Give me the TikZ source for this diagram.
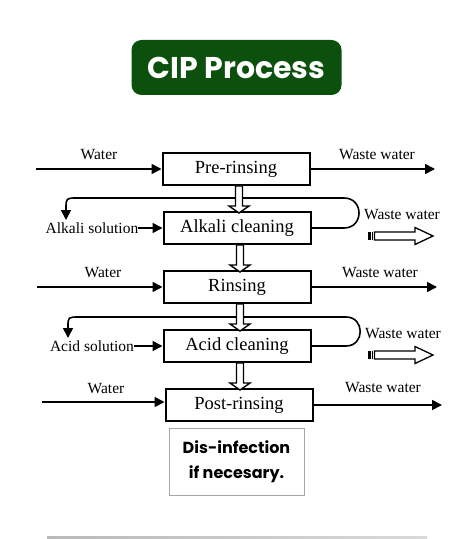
\documentclass[tikz,border=0pt]{standalone}
\usepackage{fontspec}
\setmainfont{Liberation Serif}
\newfontfamily\poppins{Poppins}
\usetikzlibrary{arrows.meta,positioning}
\definecolor{cipgreen}{RGB}{12,80,14}

\begin{document}
\begin{tikzpicture}[
x=1bp, y=-1bp,
>={Triangle[length=10bp,width=10bp]},
title/.style={rectangle, rounded corners=10bp, fill=cipgreen, text=white, minimum width=210bp, minimum height=55bp, font=\poppins\fontsize{30bp}{36bp}\selectfont\bfseries},
stage/.style={rectangle, draw, line width=2bp, minimum width=147bp, minimum height=32bp, inner sep=0pt, font=\fontsize{18.5bp}{22bp}\selectfont},
flowlabel/.style={inner sep=0pt, font=\fontsize{15.5bp}{18bp}\selectfont},
note/.style={rectangle, draw=gray!70, line width=1bp, minimum width=135bp, minimum height=67bp, align=center, font=\poppins\fontsize{16bp}{25bp}\selectfont\bfseries},
flow/.style={line width=1.6bp},
blockdown/.pic={\filldraw[fill=white,line width=1.4bp] (-3.5,0) -- (-3.5,20) -- (-10,20) -- (0,27) -- (10,20) -- (3.5,20) -- (3.5,0) -- cycle;},
wasteout/.pic={
  \fill (0,-4) rectangle (2.5,4);
  \fill (3.5,-4) rectangle (5,4);
  \filldraw[fill=white,line width=1.3bp] (6.5,-4) -- (47,-4) -- (47,-8.5) -- (65,0) -- (47,8.5) -- (47,4) -- (6.5,4) -- cycle;},
]
\useasboundingbox (0,0) rectangle (474,539);

\node at (236.5,67.5) [title](title){CIP Process};

% stages
\node at (236,169) [stage](pre){Pre-rinsing};
\node at (237,228) [stage](alk){Alkali cleaning};
\node at (237,287) [stage](rin){Rinsing};
\node at (237,346) [stage](acid){Acid cleaning};
\node at (239,405) [stage](post){Post-rinsing};

\node at (236.5,461.5) [note](disinf){Dis-infection\\if necesary.};

% pre-rinsing
\node at (99,155) [flowlabel](pre_water){Water};
\node at (377,155) [flowlabel](pre_waste){Waste water};
\coordinate (pre_in) at (36,169);
\coordinate (pre_out) at (435,169);
\draw[flow,->] (pre_in) -- (pre.west);
\draw[flow,->] (pre.east) -- (pre_out);

% alkali cleaning
\node at (92,228) [flowlabel](alk_sol){Alkali solution};
\draw[flow,->] (alk_sol.east) -- (alk.west);
\coordinate (alk_turn) at (344,198);
\coordinate (alk_bend) at (77,198);
\coordinate (alk_back) at (66,220);
\draw[flow,->] (alk.east) -- (alk.east -| alk_turn)
  .. controls ([xshift=20bp]alk.east -| alk_turn) and ([xshift=20bp]alk_turn) .. (alk_turn)
  -- (alk_bend) .. controls (alk_back |- alk_bend) .. ([yshift=11bp]alk_back) -- (alk_back);
\node at (402,215) [flowlabel](alk_waste){Waste water};
\coordinate (alk_drain) at (368,236);
\pic at (alk_drain) {wasteout};

% rinsing
\node at (103,273) [flowlabel](rin_water){Water};
\node at (380,273) [flowlabel](rin_waste){Waste water};
\coordinate (rin_in) at (37,287);
\coordinate (rin_out) at (437,287);
\draw[flow,->] (rin_in) -- (rin.west);
\draw[flow,->] (rin.east) -- (rin_out);

% acid cleaning
\node at (92,346) [flowlabel](acid_sol){Acid solution};
\draw[flow,->] (acid_sol.east) -- (acid.west);
\coordinate (acid_turn) at (346,317);
\coordinate (acid_bend) at (79,317);
\coordinate (acid_back) at (68,338);
\draw[flow,->] (acid.east) -- (acid.east -| acid_turn)
  .. controls ([xshift=19bp]acid.east -| acid_turn) and ([xshift=19bp]acid_turn) .. (acid_turn)
  -- (acid_bend) .. controls (acid_back |- acid_bend) .. ([yshift=11bp]acid_back) -- (acid_back);
\node at (403,334) [flowlabel](acid_waste){Waste water};
\coordinate (acid_drain) at (368,355);
\pic at (acid_drain) {wasteout};

% post-rinsing
\node at (106,389) [flowlabel](post_water){Water};
\node at (383,388) [flowlabel](post_waste){Waste water};
\coordinate (post_in) at (42,402);
\coordinate (post_out) at (442,405);
\draw[flow,->] (post_in) -- (post_in -| post.west);
\draw[flow,->] (post.east) -- (post_out);

% hollow arrows between stages
\pic at ([xshift=3bp]pre.south) {blockdown};
\pic at ([xshift=3bp]alk.south) {blockdown};
\pic at ([xshift=3bp]rin.south) {blockdown};
\pic at ([xshift=3bp]acid.south) {blockdown};

\shade[left color=gray!55, right color=gray!30] (47,536.3) rectangle (427,538);

\end{tikzpicture}
\end{document}
